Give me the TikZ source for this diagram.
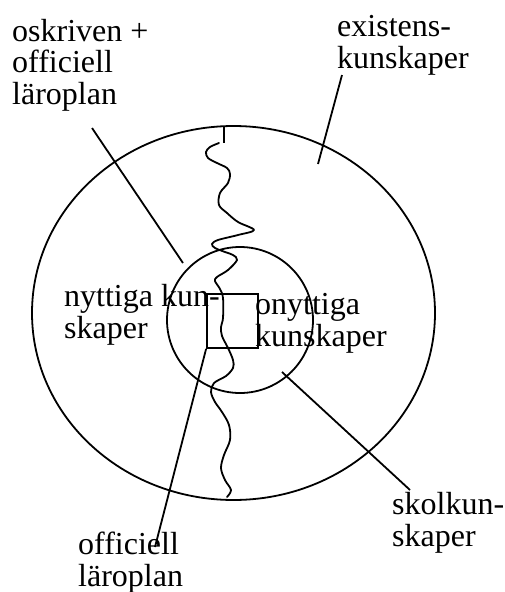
\documentclass[tikz,border=0pt]{standalone}
\usepackage{fontspec}
\setmainfont{Liberation Serif}
\usetikzlibrary{shapes.geometric}
\tikzset{
  lbl/.style={anchor=base west, inner sep=0pt, align=left, font=\fontsize{32}{31.5}\selectfont},
  ring/.style={draw, line width=1.8pt, inner sep=0pt},
  leader/.style={line width=1.8pt},
  wave/.style={line width=1.8pt, line join=round, line cap=round}
}
\begin{document}
\begin{tikzpicture}[x=1pt,y=-1pt]
\useasboundingbox[fill=white] (0,0) rectangle (504,592);
% rings
\node[ring, ellipse, minimum width=403pt, minimum height=374pt] (outer) at (233.5,313) {};
\node[ring, circle, minimum size=146pt] (inner) at (240,320) {};
\node[ring, rectangle, minimum width=51pt, minimum height=54pt] (sq) at (232.5,321) {};
% top tick
\coordinate (tickA) at (224,126.5);
\coordinate (tickB) at (224,143);
\draw[leader] (tickA) -- (tickB);
% wavy border
\draw[wave] plot[smooth, tension=0.55] coordinates {
 (219,143) (210,147) (206,152) (208,158) (217,163) (227,168) (230,174) (228,183)
 (220,193) (219,205) (227,213) (238,222) (254,230) (238,235) (218,240) (212,244)
 (215,248) (225,252) (233,255) (237,260) (228,270) (217,277) (215,281) (220,289)
 (223,298) (223,318) (221,327) (222,336) (228,348) (233,360) (233,368) (226,376)
 (214,383) (211,392) (215,402) (222,412) (229,425) (230,440) (224,455) (221,468)
 (225,480) (231,490) (227,497)};
% labels (anchored at the baseline of the last line)
\node[lbl] (lOsk) at (12,104) {oskriven +\\officiell\\läroplan};
\node[lbl] (lEx) at (337,68) {existens-\\kunskaper};
\node[lbl] (lNyt) at (64,338) {nyttiga kun-\\skaper};
\node[lbl] (lOny) at (255,346) {onyttiga\\kunskaper};
\node[lbl] (lSkol) at (392,546) {skolkun-\\skaper};
\node[lbl] (lOff) at (78,586) {officiell\\läroplan};
% leaders
\coordinate (cOskA) at (92,128);
\coordinate (cOskB) at (183,263);
\coordinate (cExA) at (342,75);
\coordinate (cExB) at (318,164);
\coordinate (cSkA) at (282,372);
\coordinate (cSkB) at (410,490);
\coordinate (cOff) at (155,547);
\draw[leader] (cOskA) -- (cOskB);
\draw[leader] (cExA) -- (cExB);
\draw[leader] (cSkA) -- (cSkB);
\draw[leader] (sq.south west) -- (cOff);
\end{tikzpicture}
\end{document}
